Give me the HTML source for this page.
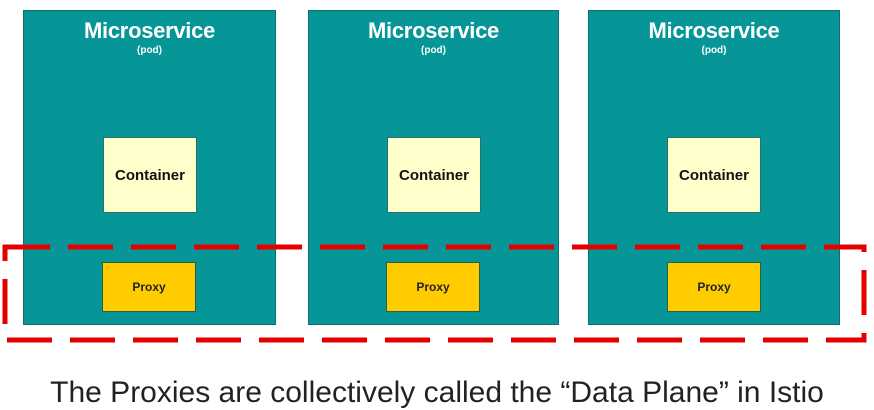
<!DOCTYPE html>
<html><head><style>
body{margin:0;width:874px;height:409px;background:#fff;position:relative;overflow:hidden;font-family:"Liberation Sans",sans-serif}
.pod{position:absolute;top:10px;height:315px;background:#069697;border:1px solid #0a7070;box-sizing:border-box}
.t{position:absolute;left:0;right:0;top:7px;text-align:center;color:#fff;font-weight:bold;font-size:22px;letter-spacing:-0.3px}
.s{position:absolute;left:0;right:0;top:34px;text-align:center;color:#fff;font-weight:bold;font-size:10px}
.c{position:absolute;top:137px;width:94px;height:76px;background:#ffffcc;border:1px solid #2a7070;box-sizing:border-box;display:flex;align-items:center;justify-content:center;font-weight:bold;font-size:15px;color:#111}
.p{position:absolute;top:262px;width:94px;height:50px;background:#ffcc00;border:1px solid #2a6040;box-sizing:border-box;display:flex;align-items:center;justify-content:center;font-weight:bold;font-size:12px;color:#222}
</style></head><body>
<div class="pod" style="left:23px;width:253px"><div class="t">Microservice</div><div class="s">(pod)</div></div>
<div class="pod" style="left:308px;width:251px"><div class="t">Microservice</div><div class="s">(pod)</div></div>
<div class="pod" style="left:588px;width:252px"><div class="t">Microservice</div><div class="s">(pod)</div></div>
<div class="c" style="left:103px">Container</div>
<div class="c" style="left:387px">Container</div>
<div class="c" style="left:667px">Container</div>
<div class="p" style="left:102px">Proxy</div>
<div class="p" style="left:386px">Proxy</div>
<div class="p" style="left:667px">Proxy</div>
<svg style="position:absolute;left:0;top:0" width="874" height="409">
<rect x="5" y="247" width="859" height="93" fill="none" stroke="#e50000" stroke-width="5" stroke-dasharray="45,18"/>
</svg>
<div style="position:absolute;left:0;right:0;top:376px;text-align:center;font-size:30px;color:#222;white-space:nowrap">The Proxies are collectively called the “Data Plane” in Istio</div>
</body></html>
